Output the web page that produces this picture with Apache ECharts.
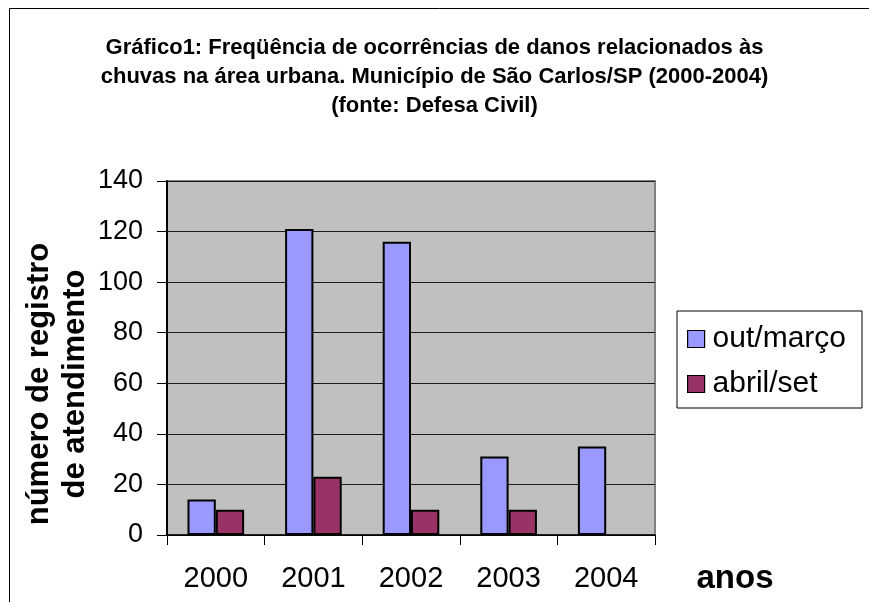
<!DOCTYPE html>
<html><head><meta charset="utf-8">
<script src="https://cdn.jsdelivr.net/npm/echarts@6/dist/echarts.min.js"></script>
<style>html,body{margin:0;padding:0;background:#fff}#c{width:869px;height:602px}</style>
</head><body><div id="c"></div>
<script>
const categories = ['2000', '2001', '2002', '2003', '2004'];
const outMarco = [14, 121, 116, 31, 35];
const abrilSet = [10, 23, 10, 10, null];
const seriesNames = ['out/março', 'abril/set'];
const yMin = 0, yMax = 140, yInterval = 20;
const titleText = 'Gráfico1: Freqüência de ocorrências de danos relacionados às\nchuvas na área urbana. Município de São Carlos/SP (2000-2004)\n(fonte: Defesa Civil)';
const yName = 'número de registro\nde atendimento';
const xName = 'anos';

const FONT = 'Liberation Sans, Arial, sans-serif';
const chart = echarts.init(document.getElementById('c'), null, {renderer: 'canvas'});
chart.setOption({
  animation: false,
  backgroundColor: '#fff',
  title: {
    text: titleText, left: 'center', top: 33, padding: 0,
    textStyle: {fontFamily: FONT, fontSize: 22, fontWeight: 'bold', color: '#000', lineHeight: 29}
  },
  grid: {left: 167, right: 214, top: 181, bottom: 67, show: true, backgroundColor: '#C0C0C0', borderColor: '#808080', borderWidth: 2},
  legend: {
    left: 677, top: 311, orient: 'vertical',
    padding: [12, 16, 8, 10], itemGap: 13,
    itemWidth: 17, itemHeight: 17, icon: 'rect',
    borderColor: '#000', borderWidth: 1, backgroundColor: '#fff',
    itemStyle: {borderColor: '#000', borderWidth: 1.2},
    textStyle: {fontFamily: FONT, fontSize: 30, color: '#000', lineHeight: 32, padding: [0, 0, 0, 3]},
    data: seriesNames
  },
  xAxis: {
    type: 'category', data: categories, boundaryGap: true,
    axisLine: {lineStyle: {color: '#000', width: 1.5}},
    axisTick: {show: true, length: 10, alignWithLabel: false, lineStyle: {color: '#000'}},
    axisLabel: {fontFamily: FONT, fontSize: 29, color: '#000', margin: 29, interval: 0},
    splitLine: {show: false}
  },
  yAxis: {
    type: 'value', min: yMin, max: yMax, interval: yInterval,
    axisLine: {show: true, lineStyle: {color: '#000', width: 2}},
    axisTick: {show: true, length: 10, lineStyle: {color: '#000'}},
    axisLabel: {fontFamily: FONT, fontSize: 27, color: '#000', margin: 24},
    splitLine: {show: true, lineStyle: {color: '#1a1a1a', width: 1}}
  },
  series: [
    {name: seriesNames[0], type: 'bar', data: outMarco, barGap: '0%', barCategoryGap: '42%',
     itemStyle: {color: '#9999FF', borderColor: '#000', borderWidth: 2}},
    {name: seriesNames[1], type: 'bar', data: abrilSet, barGap: '0%', barCategoryGap: '42%',
     itemStyle: {color: '#993366', borderColor: '#000', borderWidth: 2}}
  ],
  graphic: [
    {type: 'rect', shape: {x: 9.5, y: 8.5, width: 900, height: 700}, style: {fill: 'none', stroke: '#000', lineWidth: 1}, z: -1, silent: true},
    {type: 'text', x: 57, y: 384, rotation: Math.PI / 2,
     style: {text: yName, font: 'bold 31px ' + FONT, align: 'center', verticalAlign: 'middle', lineHeight: 36, fill: '#000'}},
    {type: 'text', x: 735, y: 579,
     style: {text: xName, font: 'bold 33px ' + FONT, align: 'center', verticalAlign: 'middle', fill: '#000'}}
  ]
});
</script></body></html>
